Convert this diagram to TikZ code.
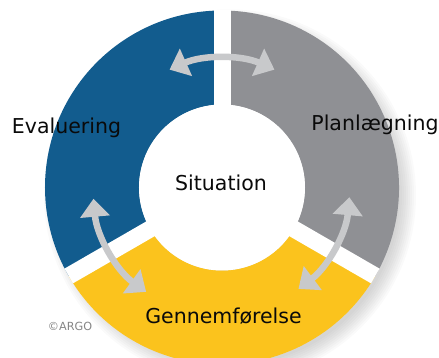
\documentclass[tikz,border=0pt]{standalone}
\usepackage{fontspec}
\setmainfont{DejaVu Sans}
\usetikzlibrary{arrows.meta}

\definecolor{argoblue}{HTML}{125C8E}
\definecolor{argogray}{HTML}{8F9094}
\definecolor{argoyellow}{HTML}{FBC31D}
\definecolor{argoarrow}{HTML}{C8C9CB}
\definecolor{argotext}{HTML}{0A0A0A}
\definecolor{argocopy}{HTML}{858585}

\begin{document}
\begin{tikzpicture}[
      >=Triangle,
      gap/.style = { draw = white, line width = 17pt },
      flow/.style = {
        draw = argoarrow, line width = 6.5pt,
        {Triangle[length = 18pt, width = 29pt]}-{Triangle[length = 18pt, width = 29pt]}
      },
      phase/.style = {
        text = argotext, anchor = base,
        font = {\fontsize{20.5}{24}\selectfont}
      },
    ]

    \useasboundingbox (-222pt,-170.5pt) rectangle (217pt,187.5pt);

	%% soft shadow
    \foreach \r in {0,2,...,16} {
      \fill[black, opacity = .018] (8pt,-8pt) circle [radius = 170pt+\r pt];
    }

	%% ring
    \foreach \a/\c in {-30/argogray, 90/argoblue, 210/argoyellow} {
      \fill[\c] (\a:177pt) arc (\a:\a+120:177pt) -- (\a+120:83pt) arc (\a+120:\a:83pt) -- cycle;
    }

    \foreach \a in {90, 210, 330} {
      \draw[gap] (0,0) -- (\a:177pt);
    }
    \fill[white] (0,0) circle (83pt);

	%% double arrows across the gaps
    \draw[flow] (66:129pt) arc (66:114:129pt);
    \draw[flow] (185:129pt) arc (185:234:129pt);
    \draw[flow] (307:127pt) arc (307:355:129pt);

	%% texts
    \node[phase] (situation) at (-1pt,-3.5pt) {Situation};
    \node[phase] (evaluering) at (-155.5pt,53.5pt) {Evaluering};
    \node[phase] (planning) at (153pt,56.5pt) {Planlægning};
    \node[phase] (execution) at (1.5pt,-136.5pt) {Gennemførelse};
    \node[text = argocopy, anchor = base, font = {\fontsize{11.2}{13}\selectfont}] (copyright) at (-152pt,-143.5pt) {©ARGO};
  \end{tikzpicture}
\end{document}
